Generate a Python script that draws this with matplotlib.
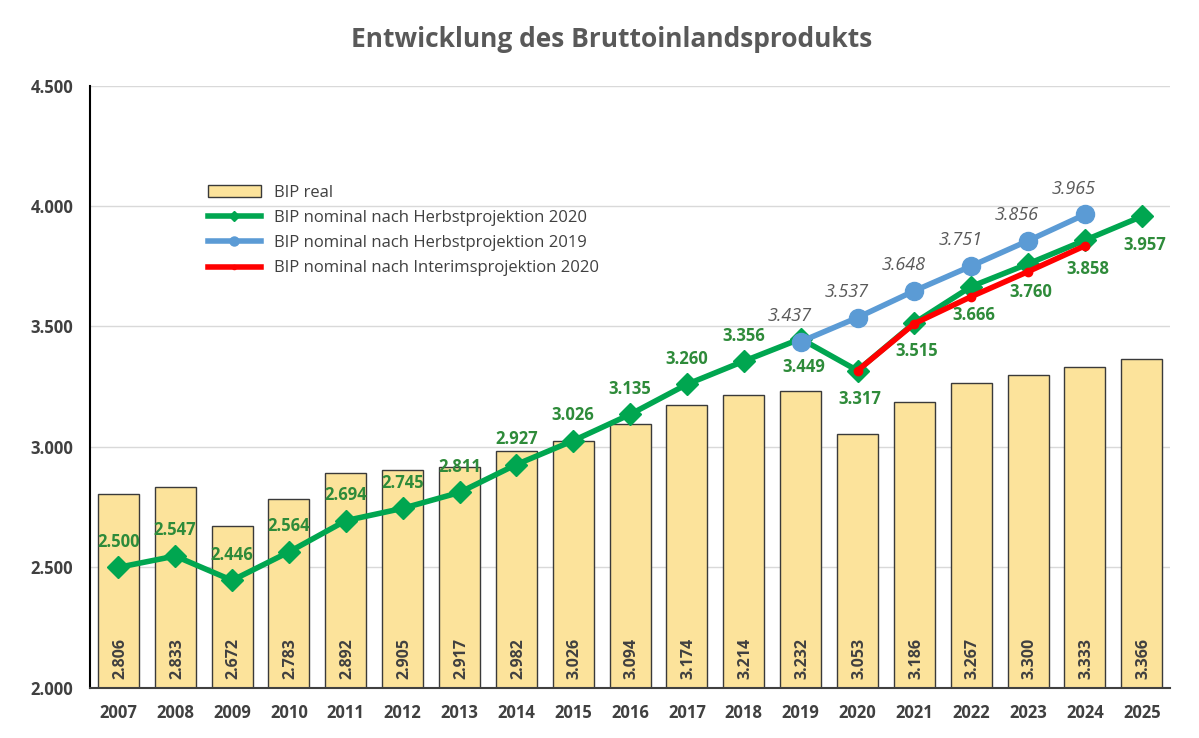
import numpy as np
import matplotlib
matplotlib.use("Agg")
import matplotlib.pyplot as plt

plt.rcParams['font.family'] = ['Open Sans', 'DejaVu Sans']

# Daten
jahre = list(range(2007, 2026))
bip_real = [2806, 2833, 2672, 2783, 2892, 2905, 2917, 2982, 3026, 3094,
            3174, 3214, 3232, 3053, 3186, 3267, 3300, 3333, 3366]
herbst2020 = [2500, 2547, 2446, 2564, 2694, 2745, 2811, 2927, 3026, 3135,
              3260, 3356, 3449, 3317, 3515, 3666, 3760, 3858, 3957]
herbst2019_jahre = [2019, 2020, 2021, 2022, 2023, 2024]
herbst2019 = [3437, 3537, 3648, 3751, 3856, 3965]
interim_jahre = [2020, 2021, 2022, 2023, 2024]
interim2020 = [3317, 3512, 3624, 3728, 3835]

def fmt(v):
    return f"{v/1000:.3f}"

fig = plt.figure(figsize=(11.99, 7.38), dpi=100)
ax = fig.add_axes([0.075, 0.068, 0.901, 0.816])

x = np.array(jahre)
bars = ax.bar(x, bip_real, width=0.72, bottom=0, color='#FCE39B', edgecolor='#3a3a3a',
              linewidth=1.0, label='BIP real', zorder=2)
for xi, v in zip(x, bip_real):
    ax.text(xi + 0.03, 2035, fmt(v), rotation=90, ha='center', va='bottom',
            fontsize=11.5, fontweight='bold', color='#404040', zorder=5)

l_int, = ax.plot(interim_jahre, interim2020, color='#FF0000', lw=4, marker='o', ms=6,
                 label='BIP nominal nach Interimsprojektion 2020', zorder=4)
l_h20, = ax.plot(jahre, herbst2020, color='#00A650', lw=4, marker='D', ms=11,
                 label='BIP nominal nach Herbstprojektion 2020', zorder=3)
l_h19, = ax.plot(herbst2019_jahre, herbst2019, color='#5B9BD5', lw=4, marker='o', ms=13,
                 label='BIP nominal nach Herbstprojektion 2019', zorder=3)

for xi, v in zip(jahre, herbst2020):
    if xi < 2019:
        ax.annotate(fmt(v), (xi, v), xytext=(0, 12), textcoords='offset points',
                    ha='center', va='bottom', fontsize=12, fontweight='bold',
                    color='#2E8B3A', zorder=6)
    else:
        ax.annotate(fmt(v), (xi, v), xytext=(2, -14), textcoords='offset points',
                    ha='center', va='top', fontsize=12, fontweight='bold',
                    color='#2E8B3A', zorder=6)
for xi, v in zip(herbst2019_jahre, herbst2019):
    ax.annotate(fmt(v), (xi, v), xytext=(-8, 12), textcoords='offset points',
                ha='center', va='bottom', fontsize=13, style='italic',
                color='#595959', zorder=6)

ax.set_ylim(2000, 4500)
ax.set_xlim(2006.5, 2025.5)
ax.set_yticks([2000, 2500, 3000, 3500, 4000, 4500])
ax.set_yticklabels(['2.000', '2.500', '3.000', '3.500', '4.000', '4.500'])
ax.set_xticks(jahre)
ax.set_xticklabels([str(j) for j in jahre])
ax.tick_params(axis='both', length=0, labelsize=12, labelcolor='#404040', pad=12)
for lab in ax.get_xticklabels() + ax.get_yticklabels():
    lab.set_fontweight('bold')
ax.grid(axis='y', color='#d9d9d9', lw=1, zorder=0)
ax.set_axisbelow(True)
for s in ['top', 'right']:
    ax.spines[s].set_visible(False)
ax.spines['left'].set_color('#000000')
ax.spines['left'].set_linewidth(1.5)
ax.spines['bottom'].set_color('#404040')
ax.spines['bottom'].set_linewidth(1.5)

leg = ax.legend([bars, l_h20, l_h19, l_int],
                ['BIP real', 'BIP nominal nach Herbstprojektion 2020',
                 'BIP nominal nach Herbstprojektion 2019',
                 'BIP nominal nach Interimsprojektion 2020'],
                loc='upper left', bbox_to_anchor=(0.095, 0.86), frameon=False,
                fontsize=12, labelcolor='#404040', handlelength=3.2,
                labelspacing=0.55, markerscale=0.5)

fig.suptitle('Entwicklung des Bruttoinlandsprodukts', x=0.51, y=0.965,
             fontsize=19, fontweight='bold', color='#595959')

fig.savefig('out.png', dpi=100)
